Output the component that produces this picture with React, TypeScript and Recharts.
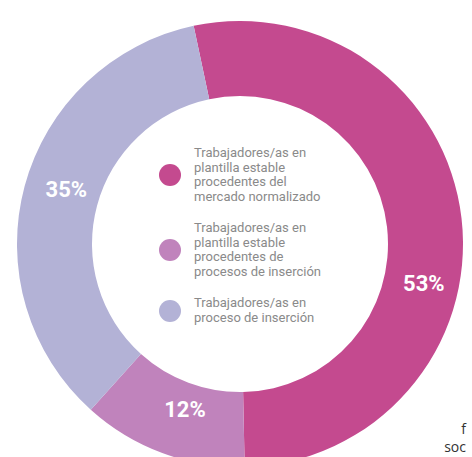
import React from 'react';
import { PieChart, Pie, Cell, Legend } from 'recharts';

const CATEGORIES = [
  'Trabajadores/as en plantilla estable procedentes del mercado normalizado',
  'Trabajadores/as en plantilla estable procedentes de procesos de inserción',
  'Trabajadores/as en proceso de inserción',
];
const VALUES = [53, 12, 35];
const LEGEND_LINES = [
  ['Trabajadores/as en', 'plantilla estable', 'procedentes del', 'mercado normalizado'],
  ['Trabajadores/as en', 'plantilla estable', 'procedentes de', 'procesos de inserción'],
  ['Trabajadores/as en', 'proceso de inserción'],
];

const COLORS = ['#C44A8F', '#C083BC', '#B3B2D6'];
// where each percentage sits on the ring (degrees, recharts convention)
const LABEL_ANGLES = [-13.4, -108, 163.7];
const LABEL_RADII = [189, 178, 181];

const RADIAN = Math.PI / 180;

const data = CATEGORIES.map((name, i) => ({ name, value: VALUES[i] }));

function renderLabel(props: any) {
  const { cx, cy, index, value } = props;
  const r = LABEL_RADII[index];
  const a = LABEL_ANGLES[index] * RADIAN;
  const x = cx + r * Math.cos(a);
  const y = cy - r * Math.sin(a) - 4;
  return (
    <text
      x={x}
      y={y}
      fill="#ffffff"
      textAnchor="middle"
      dominantBaseline="central"
      fontFamily="Roboto, 'Liberation Sans', sans-serif"
      fontWeight={700}
      fontSize={22}
    >
      {`${value}%`}
    </text>
  );
}

function CenterLegend() {
  const tops = [146, 221, 296];
  return (
    <div style={{ position: 'relative', width: 200, height: 200 }}>
      {LEGEND_LINES.map((lines, i) => (
        <div key={i} style={{ position: 'absolute', left: 0, top: tops[i], display: 'flex', alignItems: 'center' }}>
          <span
            style={{
              width: 22,
              height: 22,
              borderRadius: '50%',
              background: COLORS[i],
              marginRight: 13,
              flex: 'none',
            }}
          />
          <div style={{ fontFamily: 'Roboto, sans-serif', fontSize: 13, lineHeight: '14.7px', color: '#8a8a8a' }}>
            {lines.map((l, j) => (
              <div key={j}>{l}</div>
            ))}
          </div>
        </div>
      ))}
    </div>
  );
}

export default function App() {
  return (
    <div style={{ position: 'fixed', left: 0, top: 0, width: 472, height: 457, background: '#fff', overflow: 'hidden' }}>
      <PieChart width={472} height={457}>
        <Pie
          data={data}
          dataKey="value"
          cx={235}
          cy={239}
          innerRadius={148}
          outerRadius={223}
          startAngle={102}
          endAngle={-258}
          stroke="none"
          labelLine={false}
          label={renderLabel}
          isAnimationActive={false}
        >
          {data.map((entry, index) => (
            <Cell key={`cell-${index}`} fill={COLORS[index]} />
          ))}
        </Pie>
        <Legend
          content={() => <CenterLegend />}
          wrapperStyle={{ position: 'absolute', left: 159, top: 0, width: 200, bottom: 'auto' }}
        />
      </PieChart>
      <div
        style={{
          position: 'absolute',
          left: 436,
          top: 420,
          fontFamily: "'Open Sans', sans-serif",
          fontSize: 14,
          lineHeight: '18px',
          color: '#333',
          textAlign: 'right',
          width: 30,
        }}
      >
        <div>f</div>
        <div style={{ marginLeft: -4 }}>soc</div>
      </div>
    </div>
  );
}
